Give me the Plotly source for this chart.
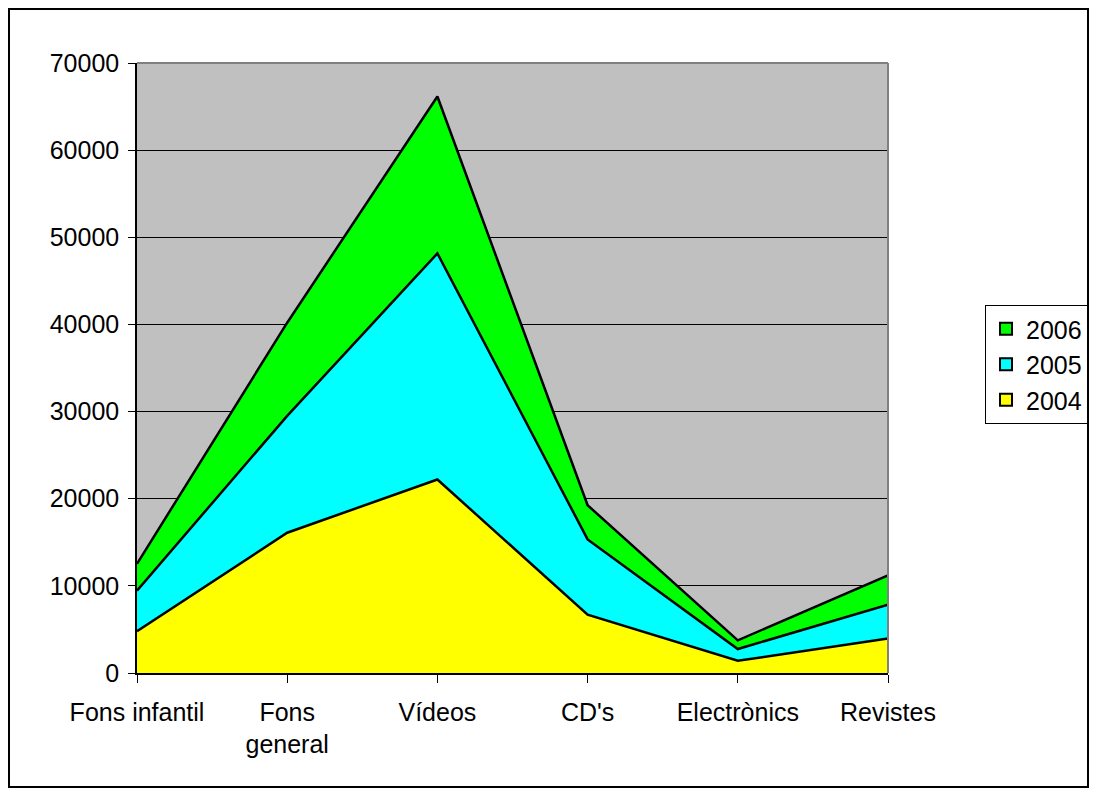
import plotly.graph_objects as go

categories = ["Fons infantil", "Fons<br>general", "Vídeos", "CD's", "Electrònics", "Revistes"]
years = ["2004", "2005", "2006"]
v2004 = [4800, 16100, 22200, 6700, 1400, 3950]
v2005 = [4660, 13400, 25950, 8630, 1350, 3900]
v2006 = [3070, 10700, 18000, 3920, 1000, 3350]
colors = ["#FFFF00", "#00FFFF", "#00FF00"]
yticks = [0, 10000, 20000, 30000, 40000, 50000, 60000, 70000]

xs = list(range(len(categories)))
fig = go.Figure()
for name, vals, col in zip(years, [v2004, v2005, v2006], colors):
    fig.add_trace(go.Scatter(
        x=xs, y=vals, name=name, stackgroup="one", mode="lines",
        line=dict(color="black", width=2.5), fillcolor=col, showlegend=False,
    ))
# legend entries (square swatches like the original)
for name, col in zip(years, colors):
    fig.add_trace(go.Scatter(
        x=[None], y=[None], name=name, mode="markers",
        marker=dict(symbol="square", size=12, color=col, line=dict(color="black", width=2)),
    ))

# page has an 8px body margin; the figure is placed at (8, 8)
W, H = 1081, 780
L, T = 129, 55
pw, ph = 751, 610
R = W - L - pw
B = H - T - ph

fig.update_layout(
    width=W, height=H,
    margin=dict(l=L, r=R, t=T, b=B, autoexpand=False),
    paper_bgcolor="white", plot_bgcolor="#C0C0C0",
    font=dict(family="Liberation Sans, Arial, sans-serif", size=25, color="black"),
    showlegend=True,
    legend=dict(
        traceorder="reversed", x=(977 - L) / pw, y=(T + ph - 297) / ph,
        xanchor="left", yanchor="top", bgcolor="white",
        bordercolor="black", borderwidth=1, font=dict(size=25),
        itemwidth=30, tracegroupgap=0,
    ),
    xaxis=dict(
        range=[0, len(categories) - 1], tickmode="array", tickvals=xs,
        ticktext=categories, showgrid=False, zeroline=False,
        ticks="outside", ticklen=8, tickcolor="black", ticklabelstandoff=8,
        showline=True, linecolor="black", linewidth=1.5, mirror=False,
    ),
    yaxis=dict(
        range=[0, 70000], tickmode="array", tickvals=yticks,
        ticktext=[str(v) for v in yticks], showgrid=True,
        gridcolor="black", gridwidth=1, zeroline=False,
        ticks="outside", ticklen=7, tickcolor="black", ticklabelstandoff=4,
        showline=True, linecolor="black", linewidth=1.5,
    ),
    shapes=[
        dict(type="rect", xref="paper", yref="paper",
             x0=(1 - L) / pw, x1=(1080 - L) / pw,
             y0=(T + ph - 779) / ph, y1=(T + ph - 1) / ph,
             line=dict(color="black", width=2), fillcolor="rgba(0,0,0,0)", layer="below"),
        dict(type="line", xref="paper", yref="paper", x0=0, x1=1, y0=1, y1=1,
             line=dict(color="#808080", width=2)),
        dict(type="line", xref="paper", yref="paper", x0=1, x1=1, y0=0, y1=1,
             line=dict(color="#808080", width=2)),
    ],
)
fig.write_html("out.html")
